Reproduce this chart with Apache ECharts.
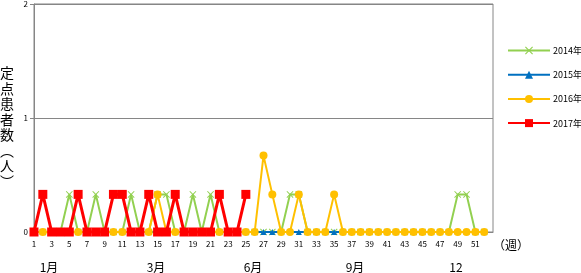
<!DOCTYPE html>
<html><head><meta charset="utf-8">
<script src="https://cdn.jsdelivr.net/npm/echarts@6/dist/echarts.min.js"></script>
<style>html,body{margin:0;padding:0;background:#fff}#c{width:581px;height:273px}</style>
</head><body><div id="c"></div>
<script>
var weeks = ['1','2','3','4','5','6','7','8','9','10','11','12','13','14','15','16','17','18','19','20','21','22','23','24','25','26','27','28','29','30','31','32','33','34','35','36','37','38','39','40','41','42','43','44','45','46','47','48','49','50','51','52','53'];
var s2014 = [0,0,0,0,0.33,0,0,0.33,0,0,0,0.33,0,0,0.33,0.33,0,0,0.33,0,0.33,0,0,0,0,0,0,0,0,0.33,0.33,0,0,0,0,0,0,0,0,0,0,0,0,0,0,0,0,0,0.33,0.33,0,0];
var s2015 = [0,0,0,0,0,0,0,0,0,0,0,0,0,0,0,0,0,0,0,0,0,0,0,0,0,0,0,0,0,0,0,0,0,0,0,0,0,0,0,0,0,0,0,0,0,0,0,0,0,0,0,0];
var s2016 = [0,0,0,0,0,0,0,0,0,0,0,0,0,0,0.33,0,0,0,0,0,0,0,0,0,0,0,0.67,0.33,0,0,0.33,0,0,0,0.33,0,0,0,0,0,0,0,0,0,0,0,0,0,0,0,0,0];
var s2017 = [0,0.33,0,0,0,0.33,0,0,0,0.33,0.33,0,0,0.33,0,0,0.33,0,0,0,0,0.33,0,0,0.33];
var seriesNames = ['2014年','2015年','2016年','2017年'];
var monthLabels = ['1月','3月','6月','9月','12'];
var monthX = [49,156,253,355,456];
var yName = '定\n点\n患\n者\n数\n︵\n人\n︶';

var font = '"Noto Sans CJK JP", sans-serif';
var chart = echarts.init(document.getElementById('c'), null, {renderer:'canvas'});
var crossPath = 'path://M0,1 L1,0 L5,4 L9,0 L10,1 L6,5 L10,9 L9,10 L5,6 L1,10 L0,9 L4,5 Z';
var graphics = monthLabels.map(function(t,i){
  return {type:'text', x: monthX[i], y: 267, style:{text:t, font:'12px '+font, fill:'#000', align:'center', verticalAlign:'middle'}};
});
graphics.push({type:'text', x: 511, y: 245, style:{text:'（週）', font:'12px '+font, fill:'#000', align:'center', verticalAlign:'middle'}});
graphics.push({type:'text', x: 7, y: 65, style:{text:yName, font:'14px '+font, lineHeight:15.5, fill:'#000', align:'center', verticalAlign:'top'}});

chart.setOption({
  animation:false,
  textStyle:{fontFamily:font},
  grid:{left:34, right:88, top:3, bottom:41, show:true, borderColor:'#868686', borderWidth:1},
  legend:{
    orient:'vertical', left:507, top:46, itemWidth:42, itemHeight:10, itemGap:15.2, padding:0,
    textStyle:{fontSize:9, color:'#000', fontFamily:font, padding:[0,0,0,-2]},
    data:seriesNames
  },
  xAxis:{
    type:'category', data:weeks, boundaryGap:false,
    axisLine:{lineStyle:{color:'#868686'}}, axisTick:{show:false},
    axisLabel:{interval:1, fontSize:8, color:'#000', margin:8, formatter:function(v){return v==='53'?'':v;}},
    splitLine:{show:false}
  },
  yAxis:{
    type:'value', min:0, max:2, interval:1,
    axisLine:{show:true, lineStyle:{color:'#868686'}},
    axisTick:{show:true, length:4, lineStyle:{color:'#868686'}},
    axisLabel:{fontSize:8, color:'#000', margin:6},
    splitLine:{lineStyle:{color:'#868686'}}
  },
  graphic:graphics,
  series:[
    {name:seriesNames[0], type:'line', data:s2014, symbol:crossPath, symbolSize:7, showAllSymbol:true,
     itemStyle:{color:'#92D050'}, lineStyle:{color:'#92D050', width:2}},
    {name:seriesNames[1], type:'line', data:s2015, symbol:'triangle', symbolSize:6, showAllSymbol:true,
     itemStyle:{color:'#0070C0'}, lineStyle:{color:'#0070C0', width:2}},
    {name:seriesNames[2], type:'line', data:s2016, symbol:'circle', symbolSize:8, showAllSymbol:true,
     itemStyle:{color:'#FFC000'}, lineStyle:{color:'#FFC000', width:2}},
    {name:seriesNames[3], type:'line', data:s2017, symbol:'rect', symbolSize:9, showAllSymbol:true,
     itemStyle:{color:'#FF0000'}, lineStyle:{color:'#FF0000', width:3}}
  ]
});
</script></body></html>
